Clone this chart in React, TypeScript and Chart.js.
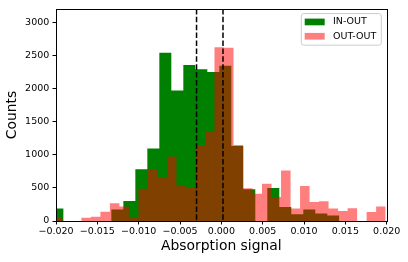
import React, { useEffect, useRef } from "react";
import { Chart, registerables } from "chart.js";

Chart.register(...registerables);

// ---- axis ranges / ticks ----
const X_MIN = -0.02;
const X_MAX = 0.02;
const X_TICKS = [-0.02, -0.015, -0.01, -0.005, 0, 0.005, 0.01, 0.015, 0.02];
const Y_MIN = 0;
const Y_MAX = 3200;
const Y_TICKS = [0, 500, 1000, 1500, 2000, 2500, 3000];
const X_TITLE = "Absorption signal";
const Y_TITLE = "Counts";

// ---- IN-OUT histogram (green) ----
const inOutLabel = "IN-OUT";
const inOutBinStart = -0.02056;
const inOutBinWidth = 0.001451;
const inOutCounts = [
  190, 0, 0, 0, 0, 172, 300, 780, 1095, 2540, 1970, 2353, 2288, 2249, 2343,
  1130, 478, 0, 497, 210, 100, 175, 115, 83,
];

// ---- OUT-OUT histogram (red, semi-transparent) ----
const outOutLabel = "OUT-OUT";
const outOutBinStart = -0.02038;
const outOutBinWidth = 0.00115;
const outOutCounts = [
  55, 0, 0, 50, 65, 140, 268, 220, 58, 488, 772, 652, 975, 537, 512, 1145,
  1343, 2622, 2615, 1145, 495, 413, 562, 363, 761, 189, 527, 288, 298, 189,
  149, 194, 0, 134, 219,
];

// ---- dashed vertical reference lines ----
const markerLines = [-0.003, 0.0002];

const FONT = "DejaVu Sans";
const GREEN = "#008000";
const RED_ALPHA = "rgba(255,0,0,0.5)";

function stepPoints(start: number, width: number, counts: number[]) {
  const pts = counts.map((c, i) => ({ x: start + i * width, y: c }));
  pts.push({ x: start + counts.length * width, y: 0 });
  return pts;
}

function fmtX(v: number) {
  if (Math.abs(v) < 1e-9) return "0.000";
  const s = Math.abs(v).toFixed(3);
  return v < 0 ? "\u2212" + s : s;
}

const overlayPlugin = {
  id: "mplOverlay",
  afterDatasetsDraw(chart: any) {
    const { ctx, chartArea: a, scales } = chart;
    const xs = scales.x;
    // dashed lines
    ctx.save();
    ctx.beginPath();
    ctx.rect(a.left, a.top, a.right - a.left, a.bottom - a.top);
    ctx.clip();
    ctx.strokeStyle = "#000";
    ctx.lineWidth = 1.5;
    ctx.setLineDash([5.5, 2.4]);
    for (const v of markerLines) {
      const x = xs.getPixelForValue(v);
      ctx.beginPath();
      ctx.moveTo(x, a.top);
      ctx.lineTo(x, a.bottom);
      ctx.stroke();
    }
    ctx.restore();

    // legend
    ctx.save();
    const w = 80;
    const h = 31.6;
    const x0 = a.right - 5.4 - w;
    const y0 = a.top + 4.7;
    const r = 2.5;
    ctx.beginPath();
    ctx.moveTo(x0 + r, y0);
    ctx.lineTo(x0 + w - r, y0);
    ctx.arcTo(x0 + w, y0, x0 + w, y0 + r, r);
    ctx.lineTo(x0 + w, y0 + h - r);
    ctx.arcTo(x0 + w, y0 + h, x0 + w - r, y0 + h, r);
    ctx.lineTo(x0 + r, y0 + h);
    ctx.arcTo(x0, y0 + h, x0, y0 + h - r, r);
    ctx.lineTo(x0, y0 + r);
    ctx.arcTo(x0, y0, x0 + r, y0, r);
    ctx.closePath();
    ctx.fillStyle = "rgba(255,255,255,0.8)";
    ctx.fill();
    ctx.strokeStyle = "#cccccc";
    ctx.lineWidth = 1;
    ctx.stroke();
    ctx.font = `9.5px "${FONT}"`;
    ctx.textBaseline = "middle";
    ctx.textAlign = "left";
    chart.data.datasets.forEach((ds: any, i: number) => {
      const cy = y0 + 8.3 + i * 14.3;
      ctx.fillStyle = ds.backgroundColor;
      ctx.fillRect(x0 + 3.4, cy - 3.3, 20, 6.7);
      ctx.fillStyle = "#000";
      ctx.fillText(ds.label, x0 + 31.7, cy);
    });
    ctx.restore();

    // spines
    ctx.save();
    ctx.strokeStyle = "#000";
    ctx.lineWidth = 1;
    ctx.strokeRect(
      Math.round(a.left) + 0.5,
      Math.round(a.top) + 0.5,
      Math.round(a.right) - Math.round(a.left),
      Math.round(a.bottom) - Math.round(a.top)
    );
    ctx.restore();
  },
};

export default function App() {
  const ref = useRef<HTMLCanvasElement>(null);

  useEffect(() => {
    if (!ref.current) return;
    Chart.defaults.font.family = FONT;
    Chart.defaults.color = "#000";
    const tickGrid = {
      display: true,
      drawOnChartArea: false,
      drawTicks: true,
      tickLength: 3.5,
      tickColor: "#000",
      tickWidth: 1,
    };
    const chart = new Chart(ref.current, {
      type: "line",
      data: {
        datasets: [
          {
            label: inOutLabel,
            data: stepPoints(inOutBinStart, inOutBinWidth, inOutCounts),
            stepped: true,
            fill: "origin",
            backgroundColor: GREEN,
            borderColor: "rgba(0,0,0,0)",
            borderWidth: 0,
            pointRadius: 0,
            order: 2,
          },
          {
            label: outOutLabel,
            data: stepPoints(outOutBinStart, outOutBinWidth, outOutCounts),
            stepped: true,
            fill: "origin",
            backgroundColor: RED_ALPHA,
            borderColor: "rgba(0,0,0,0)",
            borderWidth: 0,
            pointRadius: 0,
            order: 1,
          },
        ],
      },
      options: {
        animation: false,
        responsive: false,
        events: [],
        layout: { padding: { left: 0, top: 7, right: 21.3, bottom: 0 } },
        plugins: {
          legend: { display: false },
          tooltip: { enabled: false },
        },
        scales: {
          x: {
            type: "linear",
            min: X_MIN,
            max: X_MAX,
            border: { display: false },
            grid: tickGrid,
            afterBuildTicks: (s: any) => {
              s.ticks = X_TICKS.map((v) => ({ value: v }));
            },
            ticks: {
              autoSkip: false,
              maxRotation: 0,
              padding: 1.5,
              color: "#000",
              font: { size: 9.5, family: FONT },
              callback: (v: any) => fmtX(Number(v)),
            },
            title: {
              display: true,
              text: X_TITLE,
              color: "#000",
              font: { size: 13.9, family: FONT },
              padding: { top: 0, bottom: 6.9 },
            },
            afterFit: (s: any) => {
              s.height = 41;
            },
          },
          y: {
            type: "linear",
            min: Y_MIN,
            max: Y_MAX,
            border: { display: false },
            grid: tickGrid,
            afterBuildTicks: (s: any) => {
              s.ticks = Y_TICKS.map((v) => ({ value: v }));
            },
            ticks: {
              autoSkip: false,
              padding: 3.2,
              color: "#000",
              font: { size: 9.5, family: FONT },
              callback: (v: any) => String(v),
            },
            title: {
              display: true,
              text: Y_TITLE,
              color: "#000",
              font: { size: 13.9, family: FONT },
              padding: { top: 4.3, bottom: 0 },
            },
            afterFit: (s: any) => {
              s.width = 56;
            },
          },
        },
      } as any,
      plugins: [overlayPlugin],
    });
    return () => chart.destroy();
  }, []);

  return (
    <div style={{ position: "absolute", left: 0, top: 0, width: 408, height: 262 }}>
      <canvas ref={ref} width={408} height={262} style={{ display: "block" }} />
    </div>
  );
}
